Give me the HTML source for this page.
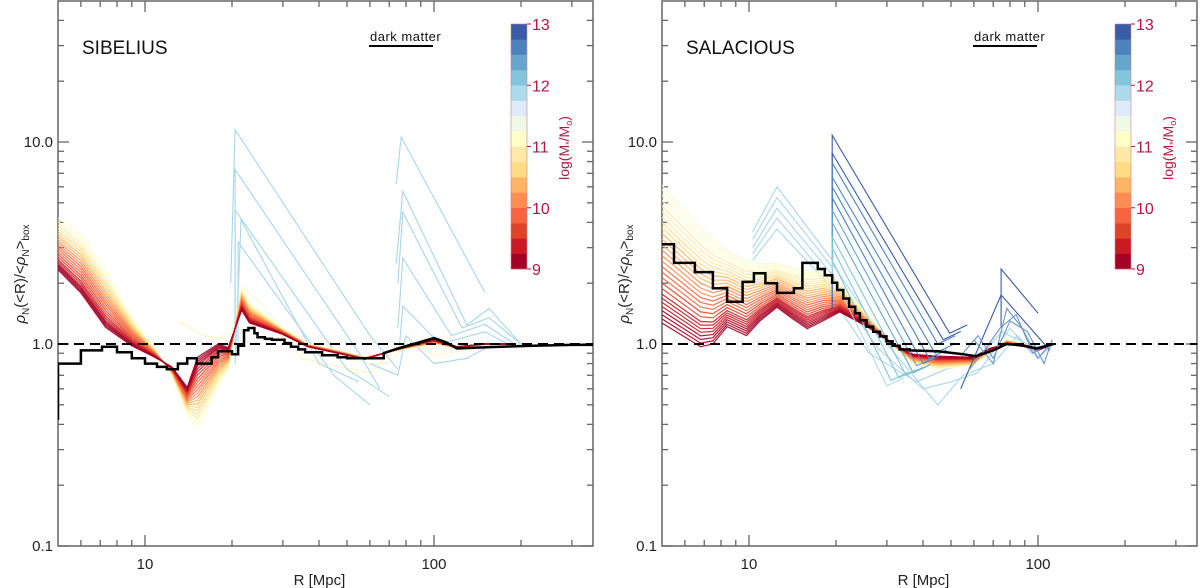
<!DOCTYPE html>
<html><head><meta charset="utf-8">
<style>
html,body{margin:0;padding:0;background:#fff;}
svg{display:block;font-family:"Liberation Sans",sans-serif;}
</style></head>
<body>
<svg id="chart" width="1200" height="588" viewBox="0 0 1200 588" xmlns="http://www.w3.org/2000/svg">
<defs>
<clipPath id="clipL"><rect x="58" y="1" width="535" height="545"/></clipPath>
<clipPath id="clipR"><rect x="662" y="1" width="535" height="545"/></clipPath>
</defs>
<g id="panelL"></g>
<g id="panelR"></g>
</svg>
<script>
// ---------- data ----------
const cmapColors = ['#a50026','#cb1a26','#de4326','#f7643f','#fd8d50','#fdb465','#fedb85','#fee9a6','#ffffc8','#eff9e6','#dfebf8','#acdcec','#82c5dc','#65a6cc','#4c83bd','#3a5ba8'];
const cbarTicks = [9,10,11,12,13];
const yTickLabels = ['0.1','1.0','10.0'];
const yTickValues = [0.1,1,10];
const xTickLabels = ['10','100'];
const xTickValues = [10,100];

// SIBELIUS bundle (dark = high density red edge, light = yellow/orange edge)
const sibR = [5,6,7.3,9,10.8,12.4,14,15.2,17.9,19.4,21.6,23,29.8,36.5,46.4,57.6,67,80,100,120,150,180];
const sibDark = [2.33,1.79,1.21,0.98,0.86,0.77,0.61,0.86,1.0,0.96,1.47,1.27,1.12,0.97,0.90,0.84,0.90,0.97,1.05,0.97,1.0,1.0];
const sibLight = [4.2,3.5,2.3,1.35,0.95,0.7,0.45,0.38,0.62,0.75,1.9,1.6,1.2,1.0,0.93,0.86,0.9,0.95,1.0,0.95,1.0,1.0];
const sibWeights = [0,0.03,0.06,0.09,0.12,0.16,0.2,0.25,0.3,0.35,0.4,0.45,0.5,0.55,0.6,0.65,0.7,0.75,0.8,0.86,0.93,1.0];

// SIBELIUS black dark-matter curve: stairs then smooth
const sibStepR = [5,6.0,7.1,8.0,9.0,10,11,11.9,13.0,14.0,15.1,17,17.9,20,21,22,22.8,23.9,24.5,26,27.5,30.4,32,33.9,35.8,41,46.4,50,57];
const sibStepV = [0.80,0.93,0.97,0.91,0.85,0.80,0.77,0.75,0.80,0.85,0.80,0.86,0.92,0.89,0.98,1.17,1.2,1.13,1.08,1.06,1.05,1.01,0.97,0.94,0.91,0.88,0.86,0.85,0.85];
const sibLineR = [67,75,85,100,110,120,140,170,220,300,360];
const sibLineV = [0.90,0.95,1.0,1.07,1.02,0.95,0.96,0.97,0.98,0.99,0.99];

// SIBELIUS pale scattered lines
const sibPale1R = [16,20,22,25,30,40,50,60,70,80,100,130,160,200];
const sibPale1V = [1.0,1.15,1.9,1.6,1.2,0.95,0.85,0.8,0.8,1.0,0.95,0.95,1.0,1.0];
const sibPale2R = [13,16,20,22,28,35,45,60,80,100,140];
const sibPale2V = [1.3,1.1,1.05,1.6,1.2,0.85,0.78,0.72,1.05,0.88,0.95];

// SIBELIUS light-blue spikes
const sibB1R = [19.8,20.5,60,75]; const sibB1V = [2.0,11.5,1.1,0.75];
const sibB2R = [20.5,20.5,55,65]; const sibB2V = [1.0,7.3,0.9,0.6];
const sibB3R = [20.5,20.5,50,70]; const sibB3V = [1.0,4.6,0.75,0.55];
const sibB4R = [21,21,45,60];     const sibB4V = [1.0,3.2,0.7,0.5];
const sibB5R = [20.5,21.5,40,55]; const sibB5V = [0.8,4.1,0.8,0.65];
const sibC1R = [74,77,150];       const sibC1V = [6.2,10.6,1.8];
const sibC2R = [74,78,130,155,200]; const sibC2V = [2.5,5.7,1.24,1.5,1.0];
const sibC3R = [75,78,125,155,200]; const sibC3V = [2.0,4.5,1.2,1.35,1.0];
const sibC4R = [75,78,115,150,190]; const sibC4V = [1.2,2.66,1.1,1.25,1.0];
const sibC5R = [76,78,105,150,180]; const sibC5V = [1.0,1.54,1.0,1.15,1.0];
const sibC6R = [60,75,80,100,130,160]; const sibC6V = [0.8,0.7,1.1,0.8,0.85,1.0];

// SALACIOUS bundle
const salR = [5,6.8,7.5,8.4,9.8,10.9,12.5,14,15.9,18,20.6,25.6,31.6,36.9,45,59.5,68,78,90,100,113];
const salDark = [1.27,0.97,1.0,1.22,1.1,1.30,1.52,1.35,1.19,1.3,1.44,1.22,1.0,0.89,0.87,0.86,0.95,1.0,0.97,0.93,1.0];
const salLight = [6.1,3.8,3.3,2.9,2.6,2.5,2.5,2.4,2.3,2.3,2.0,1.4,0.98,0.8,0.75,0.78,0.9,1.05,1.0,0.95,1.0];
const salWeights = [0,0.03,0.06,0.09,0.12,0.15,0.18,0.21,0.25,0.29,0.33,0.37,0.41,0.45,0.49,0.53,0.57,0.61,0.65,0.69,0.73,0.77,0.81,0.85,0.89,0.93,0.97,1.0];

// SALACIOUS black curve
const salStepR = [5,5.5,6.5,7.5,8.4,9.5,10.4,11.4,12.5,14.3,15.3,17.3,18.3,19.4,20.2,21.2,22.2,23.3,24.2,25.5,26.9,28.4,29.9,31.4,33.2];
const salStepV = [3.12,2.52,2.27,1.89,1.62,2.03,2.24,2.0,1.79,1.89,2.52,2.35,2.19,2.01,1.85,1.68,1.53,1.42,1.31,1.22,1.15,1.09,1.03,0.98,0.94];
const salLineR = [36,45,55,61,70,78,90,99,113];
const salLineV = [0.93,0.92,0.89,0.87,0.93,1.0,0.98,0.95,1.0];

// SALACIOUS dark-blue spikes at R~19.4
const salSpikeTop = [10.8,8.8,7.9,6.7,6.0,5.3,4.6,4.0,3.4,3.0,2.6,2.2];
const salSpikeEndR = [49.5,47,45,44,42,40,38,37,35,33,31,30];
const salSpikeEndV = [1.13,1.05,1.0,0.9,0.85,0.8,0.78,0.72,0.7,0.68,0.66,0.62];
const salSpikeMass = [12.9,12.8,12.7,12.6,12.6,12.5,12.4,12.3,12.2,12.1,12.0,11.9];
// SALACIOUS light-blue hump near R~12
const salHumpStart = [3.6,3.3,3.0,2.8,2.6];
const salHumpTop = [6.0,5.3,4.7,4.2,3.7];
const salHumpEnd = [2.6,2.4,2.2,2.0,1.9];
// SALACIOUS light-blue low lines
const salLow1R = [19.4,30,45,55,70,85,100,113]; const salLow1V = [2.5,1.0,0.5,0.7,0.8,1.1,0.85,1.0];
const salLow2R = [19.4,28,40,50,62,80,95,110]; const salLow2V = [2.0,0.95,0.6,0.65,0.72,1.2,0.9,0.98];
const salLow3R = [19.4,26,38,48,60,75,92,108]; const salLow3V = [1.7,0.9,0.65,0.75,0.8,1.15,1.0,0.95];
// SALACIOUS blue zigzags at large R
const salZ1R = [74.5,74.5,100]; const salZ1V = [1.2,2.35,1.42];
const salZ2R = [54,74.5,110]; const salZ2V = [0.6,1.75,0.93];
const salZ3R = [55,62,70,80,92,105,112]; const salZ3V = [0.9,1.1,0.85,1.3,1.15,0.8,1.05];
const salZ4R = [58,66,74,84,96,108]; const salZ4V = [0.75,0.95,1.2,1.4,0.9,1.0];
const salZ5R = [60,70,78,88,100,110]; const salZ5V = [1.05,0.8,1.5,1.2,0.85,1.0];

// ---------- helpers ----------
const NS='http://www.w3.org/2000/svg';
function el(tag, attrs, parent){const e=document.createElementNS(NS,tag);for(const k in attrs)e.setAttribute(k,attrs[k]);parent.appendChild(e);return e;}
const X0=58, X1=593, DEC=289, LMIN=Math.log10(5);
function xs(R,off){return X0+off+(Math.log10(R)-LMIN)*DEC;}
function ys(v){return 344-202*Math.log10(v);}
function colorFor(m){let i=Math.floor((m-9)/0.25);i=Math.max(0,Math.min(15,i));return cmapColors[i];}
function pathFrom(R,V,off){return R.map((r,i)=>(i?'L':'M')+xs(r,off).toFixed(1)+','+ys(V[i]).toFixed(1)).join(' ');}
function stairPath(R,V,endR,off){let d='';for(let i=0;i<R.length;i++){const x0=xs(R[i],off),x1=xs(i<R.length-1?R[i+1]:endR,off),y=ys(V[i]);d+=(i?'L':'M')+x0.toFixed(1)+','+y.toFixed(1)+' L'+x1.toFixed(1)+','+y.toFixed(1)+' ';}return d;}

function drawPanel(g, off, clipId, name){
  const data=g;
  // axes
  const ax=el('g',{},g);
  
  
  const plot=el('g',{'clip-path':'url(#'+clipId+')'},g);
  
  
  return {ax,plot};
}

function drawAxes(ax, off){
  el('rect',{x:X0+off,y:1,width:X1-X0,height:545,fill:'none',stroke:'#666','stroke-width':1.5},ax);
  // y ticks
  for(let dec=-1;dec<=1;dec++){
    for(let m=1;m<=9;m++){
      const v=m*Math.pow(10,dec);const y=ys(v);if(y<2||y>546)continue;
      const L=m===1?11:6;
      const t1=el('line',{x1:X0+off,x2:X0+off+L,y1:y,y2:y,stroke:'#666','stroke-width':1.3},ax);
      
      
      el('line',{x1:X1+off,x2:X1+off-L,y1:y,y2:y,stroke:'#666','stroke-width':1.3},ax);
    }
  }
  const xt=[6,7,8,9,10,20,30,40,50,60,70,80,90,100,200,300];
  xt.forEach(r=>{const x=xs(r,off);const L=(r===10||r===100)?11:6;
    const t=el('line',{x1:x,x2:x,y1:546,y2:546-L,stroke:'#666','stroke-width':1.3},ax);
    
    
    el('line',{x1:x,x2:x,y1:1,y2:1+L,stroke:'#666','stroke-width':1.3},ax);});
  yTickLabels.forEach((lab,i)=>{const t=el('text',{x:X0+off-5,y:ys(yTickValues[i])+5,'text-anchor':'end','font-size':15,fill:'#222'},ax);t.textContent=lab;
    
    });
  xTickLabels.forEach((lab,i)=>{const t=el('text',{x:xs(xTickValues[i],off),y:569,'text-anchor':'middle','font-size':15,fill:'#222'},ax);t.textContent=lab;
    
    });
  const xl=el('text',{x:xs(Math.sqrt(10*100)*1.0,off)+30,y:585,'text-anchor':'middle','font-size':15,fill:'#222'},ax);
  xl.textContent='R [Mpc]';
  
  
  const yl=el('text',{x:0,y:0,'text-anchor':'middle','font-size':15,fill:'#222',transform:'translate('+(25+off)+',274) rotate(-90)'},ax);
  yl.innerHTML='<tspan font-style="italic">ρ</tspan><tspan font-size="10" dy="4">N</tspan><tspan dy="-4">(&lt;R)/&lt;</tspan><tspan font-style="italic">ρ</tspan><tspan font-size="10" dy="4">N</tspan><tspan dy="-4">&gt;</tspan><tspan font-size="10" dy="4">box</tspan>';
  
  
}

function drawBundle(plot, R, dark, light, weights, off, massSpan){
  for(let k=weights.length-1;k>=0;k--){
    const w=weights[k];
    const V=dark.map((d,i)=>Math.pow(d,1-w)*Math.pow(light[i],w));
    const p=el('path',{d:pathFrom(R,V,off),fill:'none',stroke:colorFor(9+w*massSpan),'stroke-width':1.2,'stroke-opacity':0.9},plot);
    
    
  }
}
function drawLine(plot,R,V,off,color,w,nm){
  const p=el('path',{d:pathFrom(R,V,off),fill:'none',stroke:color,'stroke-width':w||1.1},plot);
  
  
}
function drawDashed(plot,off){
  const p=el('line',{x1:X0+off,x2:X1+off,y1:ys(1),y2:ys(1),stroke:'#000','stroke-width':2,'stroke-dasharray':'10,6'},plot);
  
  
}
function drawBlack(plot,stepR,stepV,lineR,lineV,off,startV){
  let d=stairPath(stepR,stepV,lineR[0],off);
  if(startV) d='M'+xs(stepR[0],off).toFixed(1)+','+ys(startV).toFixed(1)+' L'+d.slice(1);
  d+=' '+pathFrom(lineR,lineV,off).replace(/^M/,'L');
  const p=el('path',{d:d,fill:'none',stroke:'#000','stroke-width':2.5,'stroke-linejoin':'miter'},plot);
  
  
}
function drawDecor(g,off,title){
  const t=el('text',{x:82+off,y:54,'font-size':19,fill:'#111'},g);t.textContent=title;
  
  
  const dm=el('text',{x:370+off,y:41,'font-size':13,fill:'#111','letter-spacing':'0.5'},g);dm.textContent='dark matter';
  
  
  const ln=el('line',{x1:369+off,x2:433+off,y1:46,y2:46,stroke:'#000','stroke-width':2},g);
  
  
  // colorbar
  const cb=el('g',{},g);
  
  
  const top=24,bot=269,h=(bot-top)/16;
  cmapColors.forEach((c,i)=>{const r=el('rect',{x:511+off,y:bot-(i+1)*h,width:16,height:h+0.3,fill:c},cb);
    
    });
  el('rect',{x:511+off,y:top,width:16,height:bot-top,fill:'none',stroke:'#d08090','stroke-width':0.6},cb);
  cbarTicks.forEach(m=>{const y=bot-(m-9)/4*(bot-top);
    el('line',{x1:527+off,x2:531+off,y1:y,y2:y,stroke:'#b5163f','stroke-width':1},cb);
    const t=el('text',{x:532+off,y:y+6,'font-size':16,fill:'#b5163f'},cb);t.textContent=String(m);
    
    });
  const cl=el('text',{x:0,y:0,'text-anchor':'middle','font-size':14,fill:'#b5163f',transform:'translate('+(569+off)+',148) rotate(-90)'},cb);
  cl.innerHTML='log(M<tspan font-size="9" dy="3">*</tspan><tspan dy="-3">/M</tspan><tspan font-size="9" dy="3">o</tspan><tspan dy="-3">)</tspan>';
  
  
}

// ---------- SIBELIUS ----------
(function(){
  const g=document.getElementById('panelL');const off=0;
  const {ax,plot}=drawPanel(g,off,'clipL');
  drawAxes(ax,off);
  drawLine(plot,sibPale1R,sibPale1V,off,'#eff9d8',1.1);
  drawLine(plot,sibPale2R,sibPale2V,off,'#fbf6c0',1.1);
  const lb='#a9d6ea';
  [[sibB1R,sibB1V],[sibB2R,sibB2V],[sibB3R,sibB3V],[sibB4R,sibB4V],[sibB5R,sibB5V],[sibC1R,sibC1V],[sibC2R,sibC2V],[sibC3R,sibC3V],[sibC4R,sibC4V],[sibC5R,sibC5V],[sibC6R,sibC6V]].forEach(a=>drawLine(plot,a[0],a[1],off,lb,1.1));
  drawBundle(plot,sibR,sibDark,sibLight,sibWeights,off,2.2);
  drawDashed(plot,off);
  drawBlack(plot,sibStepR,sibStepV,sibLineR,sibLineV,off,0.42);
  drawDecor(g,off,'SIBELIUS');
})();

// ---------- SALACIOUS ----------
(function(){
  const g=document.getElementById('panelR');const off=604;
  const {ax,plot}=drawPanel(g,off,'clipR');
  drawAxes(ax,off);
  [[salLow1R,salLow1V],[salLow2R,salLow2V],[salLow3R,salLow3V]].forEach(a=>drawLine(plot,a[0],a[1],off,'#a9d6ea',1.1));
  salHumpTop.forEach((t,i)=>drawLine(plot,[10.3,12.5,19.4],[salHumpStart[i],t,salHumpEnd[i]],off,'#a9d6ea',1.1));
  drawBundle(plot,salR,salDark,salLight,salWeights,off,2.3);
  salSpikeTop.forEach((t,i)=>drawLine(plot,[19.4,19.4,salSpikeEndR[i],salSpikeEndR[i]*1.15],[1.5+0.1*i,t,salSpikeEndV[i],salSpikeEndV[i]*1.1],off,colorFor(salSpikeMass[i]),1.1));
  [[salZ1R,salZ1V],[salZ2R,salZ2V],[salZ3R,salZ3V],[salZ4R,salZ4V],[salZ5R,salZ5V]].forEach((a,i)=>drawLine(plot,a[0],a[1],off,i<2?'#3a5ba8':'#6a95c8',1.1));
  drawDashed(plot,off);
  drawBlack(plot,salStepR,salStepV,salLineR,salLineV,off,null);
  drawDecor(g,off,'SALACIOUS');
})();
</script>
</body></html>
